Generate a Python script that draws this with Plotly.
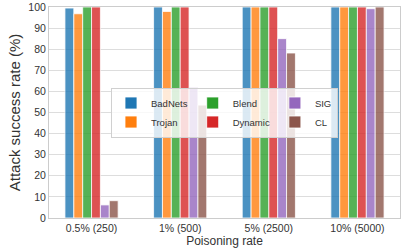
import plotly.graph_objects as go

categories = ["0.5% (250)", "1% (500)", "5% (2500)", "10% (5000)"]
attacks = ["BadNets", "Trojan", "Blend", "Dynamic", "SIG", "CL"]
badnets = [99.5, 100, 100, 100]
trojan = [96.8, 97.9, 100, 100]
blend = [100, 100, 100, 100]
dynamic = [100, 100, 100, 100]
sig = [6.2, 61.7, 85.0, 99.2]
cl = [8.2, 53.5, 78.2, 100]
series = [badnets, trojan, blend, dynamic, sig, cl]
colors = ["#1f77b4", "#ff7f0e", "#2ca02c", "#d62728", "#9467bd", "#8c564b"]
groups = ["g1", "g1", "g2", "g2", "g3", "g3"]

fig = go.Figure()
for name, vals, c, g in zip(attacks, series, colors, groups):
    fig.add_trace(go.Bar(
        x=categories, y=vals, name=name, legendgroup=g,
        marker=dict(color=c, opacity=0.8, line=dict(color="white", width=0.8)),
    ))

fig.update_layout(
    width=401, height=248,
    margin=dict(l=49, r=1, t=7, b=30),
    paper_bgcolor="white", plot_bgcolor="white",
    font=dict(family="Liberation Sans, Arial, sans-serif", color="#333333", size=11),
    barmode="group", bargap=0.4, bargroupgap=0,
    showlegend=True,
    legend=dict(
        orientation="h", traceorder="grouped", tracegroupgap=14,
        x=0.5, y=0.5, xanchor="center", yanchor="middle",
        bgcolor="rgba(255,255,255,0.8)", bordercolor="#d0d0d0", borderwidth=1,
        font=dict(size=9.5, color="#333333"),
        itemwidth=30,
    ),
    xaxis=dict(
        range=[-0.48, 3.48], showgrid=False, showline=True, linecolor="#cccccc",
        linewidth=1, ticks="", tickfont=dict(size=10.5), automargin=False,
        title=dict(text="Poisoning rate", font=dict(size=12), standoff=0),
        mirror=True,
    ),
    yaxis=dict(
        range=[0, 100], dtick=10, showgrid=True, gridcolor="#dddddd",
        showline=True, linecolor="#cccccc", linewidth=1, mirror=True,
        ticks="", tickfont=dict(size=10.5), zeroline=False, automargin=False,
        title=dict(text="Attack success rate (%)", font=dict(size=15), standoff=4),
    ),
)

fig.write_html("out.html", config={"displayModeBar": False},
               post_script="document.body.style.margin='0';")
